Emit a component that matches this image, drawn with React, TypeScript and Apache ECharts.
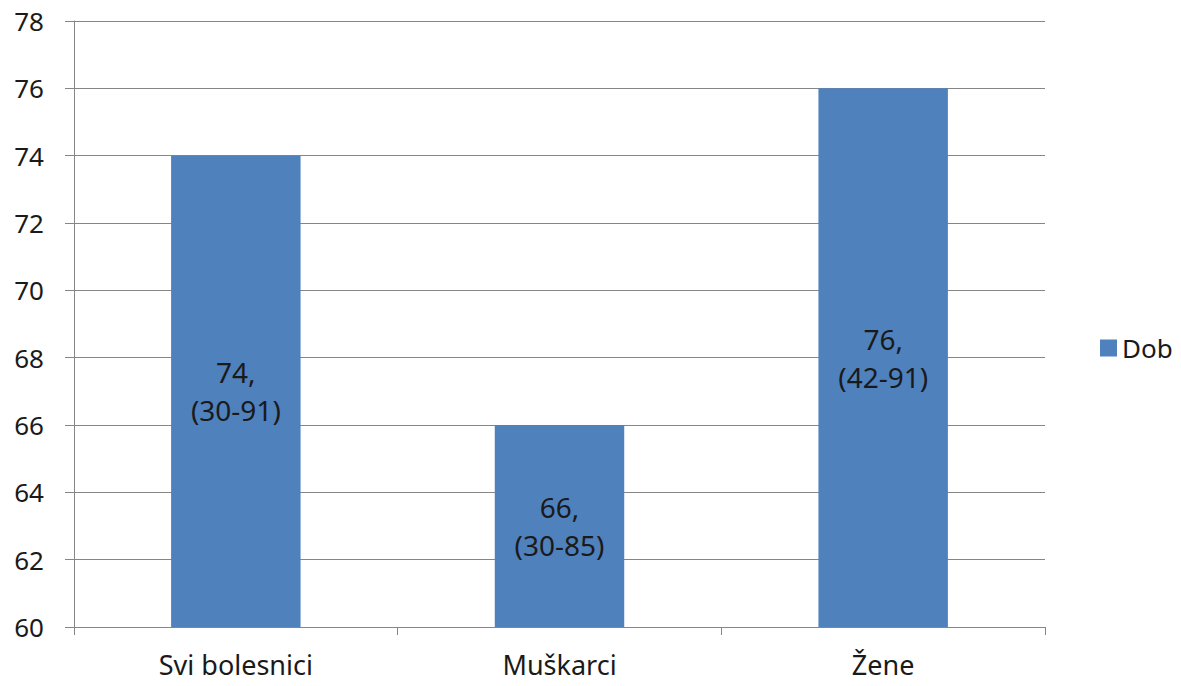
import React, { useEffect, useRef } from "react";
import * as echarts from "echarts";

const categories = ["Svi bolesnici", "Muškarci", "Žene"];
const values = [74, 66, 76];
const ranges = ["(30-91)", "(30-85)", "(42-91)"];
const seriesName = "Dob";

export default function App() {
  const ref = useRef<HTMLDivElement>(null);
  useEffect(() => {
    const chart = echarts.init(ref.current!, null, { renderer: "svg" });
    const font = "Noto Sans";
    chart.setOption({
      animation: false,
      textStyle: { fontFamily: font },
      grid: { left: 74, right: 136, top: 21, bottom: 59, containLabel: false },
      legend: {
        data: [seriesName],
        left: 1095,
        top: 330,
        icon: "rect",
        itemWidth: 17,
        itemHeight: 17,
        itemGap: 6,
        textStyle: { fontSize: 26, color: "#1a1a1a", fontFamily: font },
      },
      xAxis: {
        type: "category",
        data: categories,
        axisLine: { show: true, lineStyle: { color: "#868686", width: 1 } },
        axisTick: { show: true, length: 8, alignWithLabel: false, lineStyle: { color: "#868686" } },
        axisLabel: { fontSize: 27, color: "#1a1a1a", margin: 24, fontFamily: font },
      },
      yAxis: {
        type: "value",
        min: 60,
        max: 78,
        interval: 2,
        axisLine: { show: true, lineStyle: { color: "#868686", width: 1 } },
        axisTick: { show: true, length: 9, lineStyle: { color: "#868686" } },
        axisLabel: { fontSize: 26, color: "#1a1a1a", margin: 30, fontFamily: font },
        splitLine: { show: true, lineStyle: { color: "#868686", width: 1 } },
      },
      series: [
        {
          name: seriesName,
          type: "bar",
          data: values,
          barWidth: "40%",
          itemStyle: { color: "#4F81BD" },
          label: {
            show: true,
            position: "inside",
            formatter: (p: any) => `${p.value},\n${ranges[p.dataIndex]}`,
            fontSize: 28,
            lineHeight: 38,
            color: "#1a1a1a",
            fontFamily: font,
          },
        },
      ],
    });
    return () => chart.dispose();
  }, []);
  return (
    <div
      ref={ref}
      style={{ position: "fixed", left: 0, top: 0, width: 1181, height: 686, background: "#fff" }}
    />
  );
}
